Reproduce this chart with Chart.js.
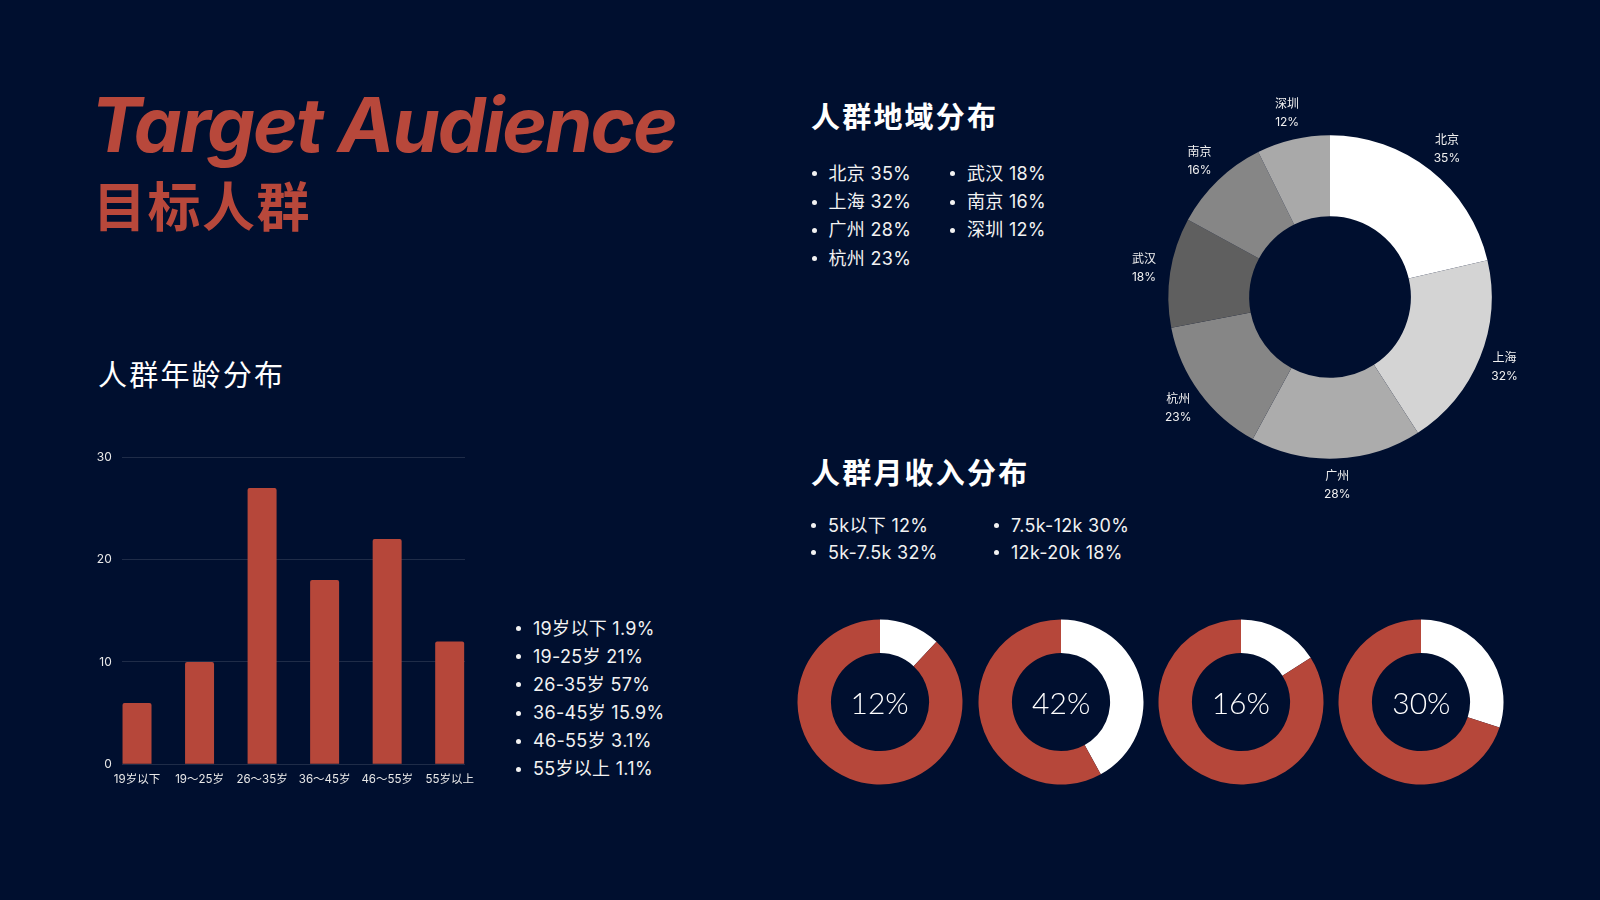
<!DOCTYPE html>
<html><head><meta charset="utf-8">
<script src="https://cdn.jsdelivr.net/npm/chart.js@4.4.0/dist/chart.umd.min.js"></script>
<style>
html,body{margin:0;padding:0;background:#000f2f;}
body{width:1600px;height:900px;position:relative;overflow:hidden;font-family:Inter,"Noto Sans CJK SC",sans-serif;color:#fff;}
.abs{position:absolute;white-space:nowrap;}
#title{left:91px;top:86px;font-size:76px;line-height:76px;font-weight:700;font-style:italic;color:#b8483b;letter-spacing:-2px;}
#subtitle{left:93px;top:177.6px;font-family:"Noto Sans CJK SC";font-size:53px;line-height:53px;font-weight:700;color:#b8483b;letter-spacing:1.5px;}
.h{font-family:"Noto Sans CJK SC";font-size:29px;line-height:29px;letter-spacing:2.2px;color:#fff;}
.hb{font-weight:700;}
.list{margin:0;padding:0;list-style:none;font-size:18px;line-height:28.3px;letter-spacing:0.3px;color:#f2f2f2;}
.list li{position:relative;}
.list li::before{content:"";position:absolute;left:-17px;top:50%;width:5px;height:5px;margin-top:-2.5px;border-radius:50%;background:#f2f2f2;}
canvas{position:absolute;}
.center{position:absolute;width:180px;height:180px;top:612px;display:flex;align-items:center;justify-content:center;font-family:Lato,sans-serif;font-weight:300;font-size:30px;color:#fff;}
</style>
</head>
<body>
<div id="title" class="abs">Target Audience</div>
<div id="subtitle" class="abs">目标人群</div>

<div class="abs h" style="left:98px;top:359px;">人群年龄分布</div>
<div class="abs h hb" style="left:811px;top:100.5px;">人群地域分布</div>
<div class="abs h hb" style="left:811px;top:457px;">人群月收入分布</div>

<ul class="abs list" id="geoList1" style="left:828.5px;top:159.8px;"></ul>
<ul class="abs list" id="geoList2" style="left:967px;top:159.8px;"></ul>
<ul class="abs list" id="incList1" style="left:828px;top:511.5px;line-height:27.5px;"></ul>
<ul class="abs list" id="incList2" style="left:1011px;top:511.5px;line-height:27.5px;"></ul>
<ul class="abs list" id="ageList" style="left:533px;top:614.5px;line-height:28.15px;"></ul>

<canvas id="bar" width="420" height="360" style="left:60px;top:440px;width:420px;height:360px;"></canvas>
<canvas id="geo" width="440" height="440" style="left:1110px;top:76.5px;width:440px;height:440px;"></canvas>
<canvas id="inc0" width="180" height="180" style="left:789.6px;top:612px;width:180px;height:180px;"></canvas>
<canvas id="inc1" width="180" height="180" style="left:971.2px;top:612px;width:180px;height:180px;"></canvas>
<canvas id="inc2" width="180" height="180" style="left:1150.8px;top:612px;width:180px;height:180px;"></canvas>
<canvas id="inc3" width="180" height="180" style="left:1331.4px;top:612px;width:180px;height:180px;"></canvas>
<div class="center" id="c0" style="left:789.6px;"></div>
<div class="center" id="c1" style="left:971.2px;"></div>
<div class="center" id="c2" style="left:1150.8px;"></div>
<div class="center" id="c3" style="left:1331.4px;"></div>

<script>
// ---- data ----
const ageLabels = ['19岁以下', '19～25岁', '26～35岁', '36～45岁', '46～55岁', '55岁以上'];
const ageValues = [6, 10, 27, 18, 22, 12];
const ageTicks = [0, 10, 20, 30];
const ageListLabels = ['19岁以下', '19-25岁', '26-35岁', '36-45岁', '46-55岁', '55岁以上'];
const ageListValues = ['1.9%', '21%', '57%', '15.9%', '3.1%', '1.1%'];

const geoLabels = ['北京', '上海', '广州', '杭州', '武汉', '南京', '深圳'];
const geoValues = [35, 32, 28, 23, 18, 16, 12];

const incomeListLabels = ['5k以下', '5k-7.5k', '7.5k-12k', '12k-20k'];
const incomeListValues = [12, 32, 30, 18];
const incomeRingValues = [12, 42, 16, 30];

// ---- styles ----
const RED = '#b6473a';
const geoColors = ['#ffffff', '#d4d4d4', '#acacac', '#868686', '#5f5f5f', '#868686', '#a9a9a9'];
const TXT_FONT = 'Inter, "Noto Sans CJK SC", sans-serif';

// ---- text lists ----
function fillList(id, items) {
  const ul = document.getElementById(id);
  items.forEach(t => { const li = document.createElement('li'); li.textContent = t; ul.appendChild(li); });
}
const geoItems = geoLabels.map((l, i) => l + ' ' + geoValues[i] + '%');
fillList('geoList1', geoItems.slice(0, 4));
fillList('geoList2', geoItems.slice(4));
const incItems = incomeListLabels.map((l, i) => l + ' ' + incomeListValues[i] + '%');
fillList('incList1', [incItems[0], incItems[1]]);
fillList('incList2', [incItems[2], incItems[3]]);
fillList('ageList', ageListLabels.map((l, i) => l + ' ' + ageListValues[i]));

// ---- bar chart ----
new Chart(document.getElementById('bar'), {
  type: 'bar',
  data: {
    datasets: [{
      data: ageValues.map((v, i) => ({ x: i, y: v })),
      backgroundColor: RED,
      borderRadius: 2,
      barPercentage: 0.4636,
      categoryPercentage: 1
    }]
  },
  options: {
    responsive: false,
    animation: false,
    layout: { padding: { top: 16, right: 15, left: 0, bottom: 0 } },
    plugins: { legend: { display: false }, tooltip: { enabled: false } },
    scales: {
      x: {
        type: 'linear', min: -0.245, max: 5.245, offset: false,
        grid: { display: false, offset: false }, border: { display: false },
        afterBuildTicks: s => { s.ticks = ageLabels.map((_, i) => ({ value: i })); },
        afterFit: s => { s.height = 35.7; },
        ticks: { autoSkip: false, maxRotation: 0, minRotation: 0, padding: 0, color: '#e8e8e8',
          font: { size: 11.5, family: TXT_FONT }, callback: v => ageLabels[v] }
      },
      y: {
        min: 0, max: 30,
        afterBuildTicks: s => { s.ticks = ageTicks.map(v => ({ value: v })); },
        afterFit: s => { s.width = 61.7; },
        grid: { color: 'rgba(255,255,255,0.12)', drawTicks: false },
        border: { display: false },
        ticks: { padding: 10, color: '#e8e8e8', font: { size: 12, family: TXT_FONT } }
      }
    }
  }
});

// ---- geo doughnut ----
const geoLabelPlugin = {
  id: 'geoOuterLabels',
  afterDatasetsDraw(chart) {
    const ctx = chart.ctx;
    const meta = chart.getDatasetMeta(0);
    ctx.save();
    ctx.fillStyle = '#f0f0f0';
    ctx.font = '12px ' + TXT_FONT;
    ctx.textAlign = 'center';
    ctx.textBaseline = 'middle';
    meta.data.forEach((arc, i) => {
      const p = arc.getProps(['x', 'y', 'startAngle', 'endAngle', 'outerRadius'], true);
      const a = (p.startAngle + p.endAngle) / 2;
      const r = p.outerRadius + 26.5;
      const px = p.x + Math.cos(a) * r, py = p.y + Math.sin(a) * r;
      ctx.fillText(geoLabels[i], px, py - 9);
      ctx.fillText(geoValues[i] + '%', px, py + 9);
    });
    ctx.restore();
  }
};
new Chart(document.getElementById('geo'), {
  type: 'doughnut',
  data: { labels: geoLabels, datasets: [{ data: geoValues, backgroundColor: geoColors, borderWidth: 0 }] },
  options: {
    responsive: false, animation: false, cutout: '50%',
    layout: { padding: 58.3 },
    plugins: { legend: { display: false }, tooltip: { enabled: false } }
  },
  plugins: [geoLabelPlugin]
});

// ---- income rings ----
incomeRingValues.forEach((v, i) => {
  new Chart(document.getElementById('inc' + i), {
    type: 'doughnut',
    data: { datasets: [{ data: [v, 100 - v], backgroundColor: ['#ffffff', RED], borderWidth: 0 }] },
    options: {
      responsive: false, animation: false, cutout: '59.5%',
      layout: { padding: 7.5 },
      plugins: { legend: { display: false }, tooltip: { enabled: false } }
    }
  });
  document.getElementById('c' + i).textContent = v + '%';
});
</script>
</body></html>
